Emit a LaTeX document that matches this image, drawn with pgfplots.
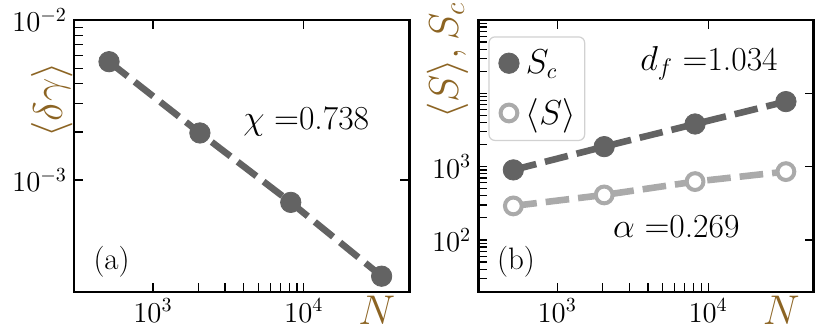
\documentclass[border=0pt]{standalone}
\usepackage{pgfplots}
\pgfplotsset{compat=1.18}
\definecolor{dg}{RGB}{99,99,99}
\definecolor{lg}{RGB}{170,170,170}
\definecolor{brn}{RGB}{140,100,35}

\begin{document}
\begin{tikzpicture}
\useasboundingbox (-37pt,-20pt) rectangle (378pt,146pt);

% (a)
\begin{axis}[
  xmode=log, ymode=log,
  scale only axis, width=167.65pt, height=136pt,
  at={(0pt,0pt)}, anchor=south west,
  xmin=300, xmax=5e4, ymin=2e-4, ymax=1e-2,
  axis line style={line width=1.2pt},
  major tick style={black, line width=0.6pt},
  minor tick style={black, line width=0.6pt},
  major tick length=4.5pt, minor tick length=4.5pt,
  tick align=inside,
  xtick pos=left, ytick pos=left,
  xtick={1e3,1e4}, ytick={1e-3,1e-2},
  tick label style={font=\fontsize{14}{16}\selectfont},
  xlabel={$N$}, ylabel={$\langle\delta\gamma\rangle$},
  xlabel style={font=\fontsize{19.5}{22}\selectfont, text=brn,
    at={(axis description cs:0.903,-0.118)}, anchor=base},
  ylabel style={font=\fontsize{19.5}{22}\selectfont, text=brn,
    at={(axis description cs:-0.066,0.706)}, anchor=center},
  clip=false,
]
\addplot[dg, line width=3.3pt, dash pattern=on 11.8pt off 4.5pt,
  mark=*, mark size=5.1pt,
  mark options={solid, line width=0.4pt, fill=dg}] coordinates {
  (512,5.49e-3) (2048,1.97e-3) (8192,7.26e-4) (32768,2.51e-4)
};
\node[anchor=base west, inner sep=0pt, font=\fontsize{16.8}{20}\selectfont]
  at (rel axis cs:0.504,0.596) {$\chi =$0.738};
\node[anchor=base west, inner sep=0pt, font=\fontsize{15.5}{18}\selectfont]
  at (rel axis cs:0.057,0.081) {(a)};
\end{axis}
\begin{axis}[
  xmode=log, ymode=log,
  scale only axis, width=167.65pt, height=136pt,
  at={(0pt,0pt)}, anchor=south west,
  xmin=300, xmax=5e4, ymin=2e-4, ymax=1e-2,
  axis line style={draw=none},
  major tick style={black, line width=0.6pt},
  major tick length=4.5pt, minor tick length=0pt,
  tick align=inside,
  xtick pos=right, ytick pos=right,
  xtick={1e3,1e4}, ytick={1e-3,1e-2},
  xticklabels={}, yticklabels={},
]
\end{axis}

% (b)
\begin{axis}[
  xmode=log, ymode=log,
  scale only axis, width=167.65pt, height=136pt,
  at={(202.15pt,0pt)}, anchor=south west,
  xmin=300, xmax=5e4, ymin=19.5, ymax=1e5,
  axis line style={line width=1.2pt},
  major tick style={black, line width=0.6pt},
  minor tick style={black, line width=0.6pt},
  major tick length=4.5pt, minor tick length=4.5pt,
  tick align=inside,
  xtick pos=left, ytick pos=left,
  xtick={1e3,1e4}, ytick={10,100,1000,10000,100000},
  yticklabels={,$10^{2}$,$10^{3}$,,},
  tick label style={font=\fontsize{14}{16}\selectfont},
  xlabel={$N$}, ylabel={$\langle S\rangle, S_c$},
  xlabel style={font=\fontsize{19.5}{22}\selectfont, text=brn,
    at={(axis description cs:0.904,-0.118)}, anchor=base},
  ylabel style={font=\fontsize{19.5}{22}\selectfont, text=brn,
    at={(axis description cs:-0.092,0.85)}, anchor=center},
  legend style={at={(axis description cs:0.03,0.94)}, anchor=north west,
    draw=black!18, rounded corners=3pt, line width=0.6pt,
    font=\fontsize{16}{18}\selectfont, row sep=8pt,
    inner xsep=3pt, inner ysep=5pt, nodes={inner sep=1.5pt}},
  legend cell align=left,
  legend image code/.code={
    \path[draw=none, fill=none] (0pt,-5pt) rectangle (14pt,5pt);
    \draw[#1,only marks] plot coordinates {(7pt,0pt)};},
  clip=false,
]
\addplot[dg, line width=3.3pt, dash pattern=on 11.8pt off 4.5pt,
  mark=*, mark size=5.1pt,
  mark options={solid, line width=0.4pt, fill=dg}] coordinates {
  (512,902) (2048,1874) (8192,3815) (32768,7710)
};
\addlegendentry{$S_c$}
\addplot[lg, line width=3.3pt, dash pattern=on 11.8pt off 4.5pt,
  mark=*, mark size=4.2pt,
  mark options={solid, line width=2pt, fill=white, draw=lg}] coordinates {
  (512,291) (2048,411) (8192,625) (32768,855)
};
\addlegendentry{$\langle S\rangle$}
\node[anchor=base west, inner sep=0pt, font=\fontsize{16.8}{20}\selectfont]
  at (rel axis cs:0.482,0.816) {$d_f =$1.034};
\node[anchor=base west, inner sep=0pt, font=\fontsize{16.8}{20}\selectfont]
  at (rel axis cs:0.401,0.199) {$\alpha =$0.269};
\node[anchor=base west, inner sep=0pt, font=\fontsize{15.5}{18}\selectfont]
  at (rel axis cs:0.055,0.081) {(b)};
\end{axis}
\begin{axis}[
  xmode=log, ymode=log,
  scale only axis, width=167.65pt, height=136pt,
  at={(202.15pt,0pt)}, anchor=south west,
  xmin=300, xmax=5e4, ymin=19.5, ymax=1e5,
  axis line style={draw=none},
  major tick style={black, line width=0.6pt},
  major tick length=4.5pt, minor tick length=0pt,
  tick align=inside,
  xtick pos=right, ytick pos=right,
  xtick={1e3,1e4}, ytick={100,1000,10000},
  xticklabels={}, yticklabels={},
]
\end{axis}
\end{tikzpicture}
\end{document}
